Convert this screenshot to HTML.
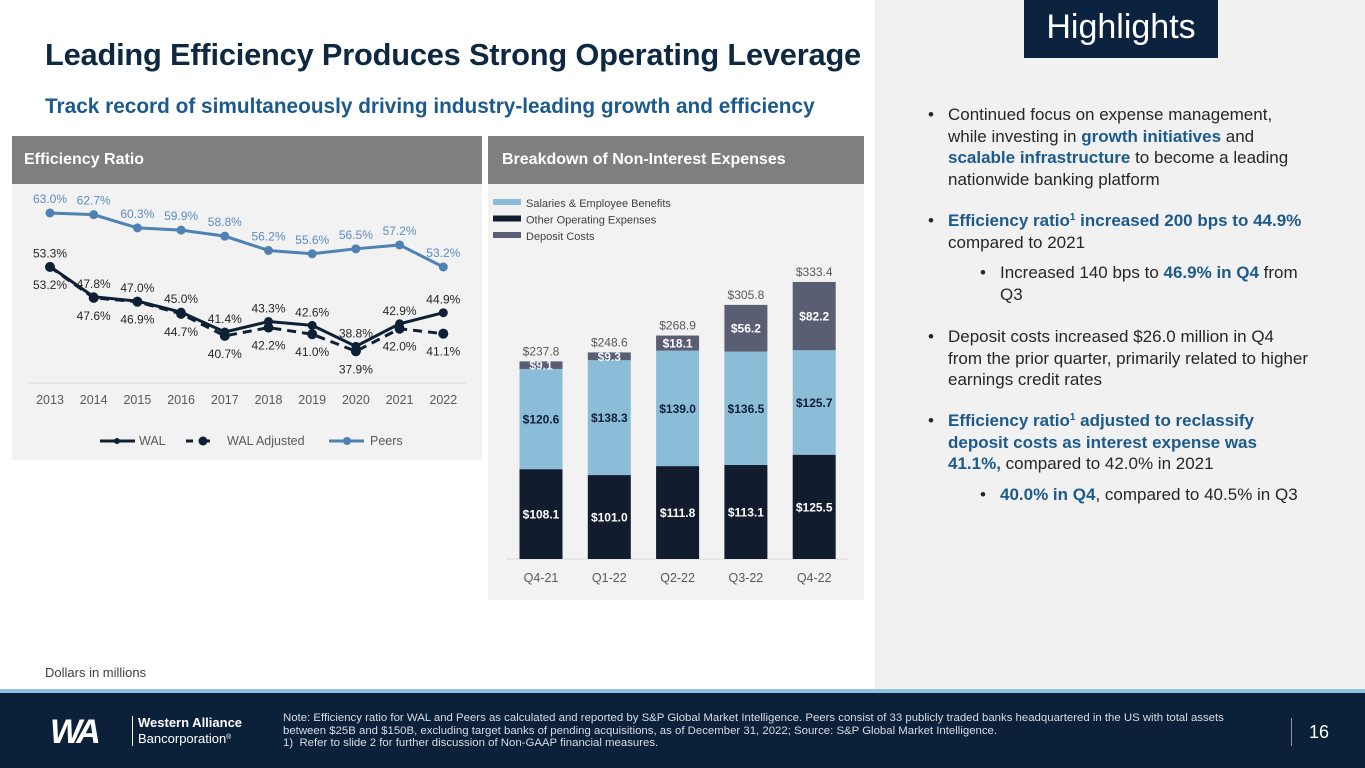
<!DOCTYPE html>
<html><head><meta charset="utf-8"><style>
*{margin:0;padding:0;box-sizing:border-box}
body{width:1365px;height:768px;position:relative;overflow:hidden;background:#fff;font-family:"Liberation Sans",Arial,sans-serif}
.abs{position:absolute}
.hl{color:#1d5a8c;font-weight:bold}
sup{font-size:10px;line-height:0;vertical-align:6px}
.bul{position:absolute;left:948px;font-size:17px;line-height:21.5px;color:#262626;width:362px}
.bul:before{content:"•";position:absolute;left:-20px;color:#262626;font-weight:normal}
.sub{position:absolute;left:1000px;font-size:17px;line-height:21.5px;color:#262626;width:300px}
.sub:before{content:"•";position:absolute;left:-20px;color:#262626;font-weight:normal}
</style></head><body>
<div class="abs" style="left:875px;top:0;width:490px;height:690px;background:#f1f1f1"></div>
<div class="abs" style="left:1024px;top:0;width:194px;height:58px;background:#0c2340;color:#fff;font-size:34px;text-align:center;line-height:54px">Highlights</div>
<div class="abs" style="left:45px;top:37px;font-size:30.8px;font-weight:bold;color:#0e2841;letter-spacing:-0.2px">Leading Efficiency Produces Strong Operating Leverage</div>
<div class="abs" style="left:45px;top:95px;font-size:20.8px;font-weight:bold;color:#1d5a8c">Track record of simultaneously driving industry-leading growth and efficiency</div>

<div class="bul" style="top:104px">Continued focus on expense management, while investing in <span class="hl">growth initiatives</span> and <span class="hl">scalable infrastructure</span> to become a leading nationwide banking platform</div>
<div class="bul" style="top:210px"><span class="hl">Efficiency ratio<sup>1</sup> increased 200 bps to 44.9%</span> compared to 2021</div>
<div class="sub" style="top:262px">Increased 140 bps to <span class="hl">46.9% in Q4</span> from Q3</div>
<div class="bul" style="top:326px">Deposit costs increased $26.0 million in Q4 from the prior quarter, primarily related to higher earnings credit rates</div>
<div class="bul" style="top:410px"><span class="hl">Efficiency ratio<sup>1</sup> adjusted to reclassify deposit costs as interest expense was 41.1%,</span> compared to 42.0% in 2021</div>
<div class="sub" style="top:484px"><span class="hl">40.0% in Q4</span>, compared to 40.5% in Q3</div>

<div class="abs" style="left:12px;top:136px;width:470px;height:324px;background:#f2f2f2"></div>
<div class="abs" style="left:12px;top:136px;width:470px;height:48px;background:#7f7f7f;color:#fff;font-size:16px;font-weight:bold;line-height:48px;padding-left:12px">Efficiency Ratio</div>
<div class="abs" style="left:488px;top:136px;width:376px;height:464px;background:#f2f2f2"></div>
<div class="abs" style="left:488px;top:136px;width:376px;height:48px;background:#7f7f7f;color:#fff;font-size:16px;font-weight:bold;line-height:48px;padding-left:14px">Breakdown of Non-Interest Expenses</div>
<div class="abs" style="left:45px;top:665px;font-size:13px;color:#404040">Dollars in millions</div>

<svg class="abs" style="left:0;top:0" width="1365" height="768" id="chart" font-family="Liberation Sans, Arial, sans-serif"></svg>

<div class="abs" style="left:0;top:689px;width:1365px;height:4px;background:#8cc0df"></div>
<div class="abs" style="left:0;top:693px;width:1365px;height:75px;background:#0b2039"></div>
<div class="abs" style="left:50px;top:713px;font-size:34px;font-weight:bold;color:#fff;letter-spacing:-4px;font-style:italic">WA</div>
<div class="abs" style="left:132px;top:716px;width:1px;height:30px;background:#fff"></div>
<div class="abs" style="left:138px;top:715px;font-size:13px;color:#fff;line-height:16px"><b>Western Alliance</b><br>Bancorporation<sup style="font-size:7px;vertical-align:4px">®</sup></div>
<div class="abs" style="left:283px;top:712px;width:965px;font-size:11.4px;line-height:12.5px;color:#d8dde4">Note: Efficiency ratio for WAL and Peers as calculated and reported by S&amp;P Global Market Intelligence. Peers consist of 33 publicly traded banks headquartered in the US with total assets between $25B and $150B, excluding target banks of pending acquisitions, as of December 31, 2022; Source: S&amp;P Global Market Intelligence.<br>1)&nbsp; Refer to slide 2 for further discussion of Non-GAAP financial measures.</div>
<div class="abs" style="left:1291px;top:718px;width:1px;height:28px;background:#8a96a6"></div>
<div class="abs" style="left:1309px;top:722px;font-size:18px;color:#fff">16</div>

<script>
const years=["2013","2014","2015","2016","2017","2018","2019","2020","2021","2022"];
const walVals=[53.3,47.8,47.0,45.0,41.4,43.3,42.6,38.8,42.9,44.9];
const walAdjVals=[53.2,47.6,46.9,44.7,40.7,42.2,41.0,37.9,42.0,41.1];
const peerVals=[63.0,62.7,60.3,59.9,58.8,56.2,55.6,56.5,57.2,53.2];
const quarters=["Q4-21","Q1-22","Q2-22","Q3-22","Q4-22"];
const otherOpex=[108.1,101.0,111.8,113.1,125.5];
const salaries=[120.6,138.3,139.0,136.5,125.7];
const depositCosts=[9.1,9.3,18.1,56.2,82.2];
const totals=[237.8,248.6,268.9,305.8,333.4];

const svg=document.getElementById('chart');
const NS="http://www.w3.org/2000/svg";
function mk(t,a,txt){const e=document.createElementNS(NS,t);for(const k in a)e.setAttribute(k,a[k]);if(txt!=null)e.textContent=txt;svg.appendChild(e);return e;}
const fx=i=>50+i*43.7;
const fy=v=>267-(v-53.2)*5.51;
let e;
e=mk('line',{x1:28,x2:466,y1:383,y2:383,stroke:'#d9d9d9'});

years.forEach((y,i)=>{e=mk('text',{x:fx(i),y:404,'text-anchor':'middle','font-size':12.5,fill:'#595959'},y);
});
function series(vals,color,dash,name,labelDy,labelColor,r){
 const pts=vals.map((v,i)=>fx(i)+','+fy(v)).join(' ');
 e=mk('polyline',{points:pts,fill:'none',stroke:color,'stroke-width':3,'stroke-dasharray':dash||'none'});
 
 vals.forEach((v,i)=>{e=mk('circle',{cx:fx(i),cy:fy(v),r:r,fill:color});
 
 e=mk('text',{x:fx(i),y:fy(v)+labelDy,'text-anchor':'middle','font-size':12,fill:labelColor},v.toFixed(1)+'%');
 });
}
series(peerVals,'#4f81b3',null,'peers',-10,'#5b8cc0',4.5);
series(walAdjVals,'#0e2035','9,6','wal-adjusted',22,'#262626',5);
series(walVals,'#0e2035',null,'wal',-9,'#262626',4.5);
e=mk('line',{x1:100,x2:135,y1:441,y2:441,stroke:'#0e2035','stroke-width':3});
e=mk('circle',{cx:117,cy:441,r:3,fill:'#0e2035'});
e=mk('text',{x:139,y:445,'font-size':12.5,fill:'#595959'},'WAL');
e=mk('line',{x1:186,x2:220,y1:441,y2:441,stroke:'#0e2035','stroke-width':3,'stroke-dasharray':'7,10'});
e=mk('circle',{cx:203,cy:441,r:4.5,fill:'#0e2035'});
e=mk('text',{x:227,y:445,'font-size':12.5,fill:'#595959'},'WAL Adjusted');
e=mk('line',{x1:329,x2:364,y1:441,y2:441,stroke:'#4f81b3','stroke-width':3});
e=mk('circle',{cx:347,cy:441,r:4,fill:'#4f81b3'});
e=mk('text',{x:370,y:445,'font-size':12.5,fill:'#595959'},'Peers');

const bx=i=>541+i*68.3, by=v=>559-v*0.831, bw=43;
e=mk('line',{x1:506,x2:848,y1:559,y2:559,stroke:'#d9d9d9'});
const segs=[[otherOpex,'#111c2e','#fff','opex'],[salaries,'#8bbdd9','#0e2035','salaries'],[depositCosts,'#5a5e72','#fff','deposit']];
quarters.forEach((q,i)=>{
 let base=0;
 segs.forEach(([arr,col,tc,nm])=>{
  const v=arr[i];
  e=mk('rect',{x:bx(i)-bw/2,y:by(base+v),width:bw,height:v*0.831,fill:col});
  
  const ly=by(base+v/2)+4.5;
  e=mk('text',{x:bx(i),y:ly,'text-anchor':'middle','font-size':12,'font-weight':'bold',fill:(nm==='deposit'&&v<12)?'#eef4f8':tc},'$'+v.toFixed(1));
  
  base+=v;
 });
 e=mk('text',{x:bx(i),y:by(totals[i])-6,'text-anchor':'middle','font-size':12,fill:'#595959'},'$'+totals[i].toFixed(1));
 
 e=mk('text',{x:bx(i),y:582,'text-anchor':'middle','font-size':12.5,fill:'#595959'},q);
 
});
[['#8bbdd9','Salaries & Employee Benefits'],['#111c2e','Other Operating Expenses'],['#5a5e72','Deposit Costs']].forEach(([c,t],k)=>{
 e=mk('rect',{x:493,y:199+k*16.5,width:28,height:6,fill:c});
 e=mk('text',{x:526,y:207+k*16.5,'font-size':11,fill:'#404040'},t);
});
</script>
</body></html>
